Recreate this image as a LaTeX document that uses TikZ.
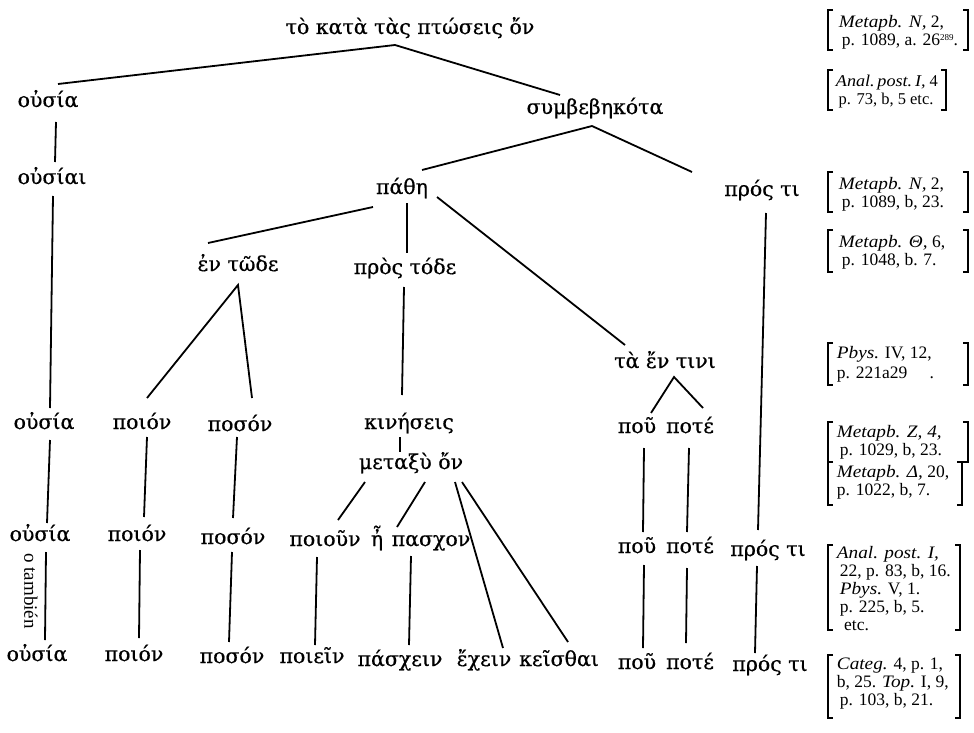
\documentclass[tikz,border=0pt]{standalone}
\usepackage{fontspec}
\setmainfont{Liberation Serif}[ItalicFeatures={FakeStretch=1.1}]
\newfontfamily\grk{DejaVu Serif}[FakeBold=0.6]
\usetikzlibrary{calc}
\newcommand{\supsm}[1]{\raisebox{5pt}{\fontsize{9}{9}\selectfont #1}}
\begin{document}
\begin{tikzpicture}[x=1pt,y=-1pt,line width=1.8pt,
  gk/.style={font=\grk\fontsize{20.5}{22}\selectfont,inner sep=0pt,anchor=base},
  rf/.style={font=\fontsize{17.5}{18}\selectfont,align=left,anchor=north west,inner sep=0pt},
  br/.style={line width=1.8pt}]
\useasboundingbox (0,0) rectangle (974,733);
% --- tree nodes ---
\node[gk] (top) at (410,34) {τὸ κατὰ τὰς πτώσεις ὄν};
\node[gk] (ousia1) at (48,107) {οὐσία};
\node[gk] (symb) at (595,114) {συμβεβηκότα};
\node[gk] (ousiai) at (52,184) {οὐσίαι};
\node[gk] (pathe) at (402,194) {πάθη};
\node[gk] (prosti1) at (762,196) {πρός τι};
\node[gk] (entode) at (238,271) {ἐν τῶδε};
\node[gk] (prostode) at (405,274) {πρὸς τόδε};
\node[gk] (taentini) at (665,368) {τὰ ἔν τινι};
\node[gk] (ousia2) at (44,429) {οὐσία};
\node[gk] (poion1) at (142,429) {ποιόν};
\node[gk] (poson1) at (240,431) {ποσόν};
\node[gk] (kineseis) at (409,429) {κινήσεις};
\node[gk] (metaxy) at (411,469) {μεταξὺ ὄν};
\node[gk] (pou1) at (637,433) {ποῦ};
\node[gk] (pote1) at (690,433) {ποτέ};
\node[gk] (ousia3) at (40,541) {οὐσία};
\node[gk] (poion2) at (137,541) {ποιόν};
\node[gk] (poson2) at (233,544) {ποσόν};
\node[gk] (poioun) at (325,546) {ποιοῦν};
\node[gk] (eta) at (377,546) {ἦ};
\node[gk] (pasxon) at (431,546) {πασχον};
\node[gk] (pou2) at (637,553) {ποῦ};
\node[gk] (pote2) at (690,553) {ποτέ};
\node[gk] (prosti2) at (768,556) {πρός τι};
\node[gk] (ousia4) at (37,661) {οὐσία};
\node[gk] (poion3) at (134,661) {ποιόν};
\node[gk] (poson3) at (232,663) {ποσόν};
\node[gk] (poiein) at (312,663) {ποιεῖν};
\node[gk] (pasxein) at (400,666) {πάσχειν};
\node[gk] (exein) at (484,666) {ἔχειν};
\node[gk] (keisthai) at (559,666) {κεῖσθαι};
\node[gk] (pou3) at (637,669) {ποῦ};
\node[gk] (pote3) at (690,669) {ποτέ};
\node[gk] (prosti3) at (770,671) {πρός τι};
\node[font=\fontsize{19}{20}\selectfont,rotate=-90,inner sep=0pt] (tambien) at (31,591) {o también};
% --- connectors ---
\draw ($(top.base)+(-15,11)$) -- ($(ousia1.base)+(10,-23)$);
\draw ($(top.base)+(-15,11)$) -- ($(symb.base)+(-35,-19)$);
\draw ($(ousia1.base)+(8,15)$) -- ($(ousiai.base)+(3,-22)$);
\draw ($(symb.base)+(-3,12)$) -- ($(pathe.base)+(20,-24)$);
\draw ($(symb.base)+(-3,12)$) -- ($(prosti1.base)+(-70,-24)$);
\draw ($(ousiai.base)+(1,12)$) -- ($(ousia2.base)+(6,-21)$);
\draw ($(pathe.base)+(-29,13)$) -- ($(entode.base)+(-30,-28)$);
\draw ($(pathe.base)+(5,9)$) -- ($(prostode.base)+(2,-21)$);
\draw ($(pathe.base)+(35,3)$) -- ($(taentini.base)+(-40,-23)$);
\draw ($(prosti1.base)+(4,17)$) -- ($(prosti2.base)+(-10,-26)$);
\draw ($(poion1.base)+(5,-31)$) -- ($(entode.base)+(0,14)$) -- ($(poson1.base)+(12,-33)$);
\draw ($(prostode.base)+(-1,13)$) -- ($(kineseis.base)+(-7,-34)$);
\draw ($(kineseis.base)+(-9,8)$) -- ($(metaxy.base)+(-11,-17)$);
\draw ($(pou1.base)+(14,-20)$) -- ($(taentini.base)+(9,9)$) -- ($(pote1.base)+(13,-25)$);
\draw ($(ousia2.base)+(6,11)$) -- ($(ousia3.base)+(7,-18)$);
\draw ($(poion1.base)+(5,8)$) -- ($(poion2.base)+(7,-24)$);
\draw ($(poson1.base)+(-3,6)$) -- ($(poson2.base)+(0,-26)$);
\draw ($(metaxy.base)+(-46,13)$) -- ($(poioun.base)+(13,-26)$);
\draw ($(metaxy.base)+(14,13)$) -- ($(pasxon.base)+(-34,-19)$);
\draw ($(metaxy.base)+(44,13)$) -- ($(exein.base)+(19,-18)$);
\draw ($(metaxy.base)+(51,13)$) -- ($(keisthai.base)+(9,-24)$);
\draw ($(pou1.base)+(7,15)$) -- ($(pou2.base)+(6,-21)$);
\draw ($(pote1.base)+(-1,15)$) -- ($(pote2.base)+(-3,-21)$);
\draw ($(prosti2.base)+(-11,10)$) -- ($(prosti3.base)+(-15,-18)$);
\draw ($(ousia3.base)+(6,11)$) -- ($(ousia4.base)+(8,-21)$);
\draw ($(poion2.base)+(3,9)$) -- ($(poion3.base)+(5,-23)$);
\draw ($(poson2.base)+(-1,8)$) -- ($(poson3.base)+(-3,-21)$);
\draw ($(poioun.base)+(-8,11)$) -- ($(poiein.base)+(3,-18)$);
\draw ($(pasxon.base)+(-20,10)$) -- ($(pasxein.base)+(9,-21)$);
\draw ($(pou2.base)+(7,12)$) -- ($(pou3.base)+(6,-21)$);
\draw ($(pote2.base)+(-3,15)$) -- ($(pote3.base)+(-4,-26)$);
% --- references ---
\node[rf] (r1) at (838,14) {\textit{Metapb. N,} 2,\\ \,p. 1089, a. 26\supsm{289}.};
\draw[br] (833,10) -- (828,10) -- (828,50) -- (833,50);
\draw[br] (963,10) -- (968,10) -- (968,50) -- (963,50);
\node[rf,font=\fontsize{16.5}{18}\selectfont] (r2) at (835,74) {\textit{Anal.\,post.\,I,} 4\\ \,p. 73, b, 5 etc.};
\draw[br] (833,70) -- (828,70) -- (828,110) -- (833,110);
\draw[br] (941,70) -- (946,70) -- (946,110) -- (941,110);
\node[rf] (r3) at (838,176) {\textit{Metapb. N,} 2,\\ \,p. 1089, b, 23.};
\draw[br] (833,172) -- (828,172) -- (828,212) -- (833,212);
\draw[br] (963,172) -- (968,172) -- (968,212) -- (963,212);
\node[rf] (r4) at (838,234) {\textit{Metapb. Θ,} 6,\\ \,p. 1048, b. 7.};
\draw[br] (833,230) -- (828,230) -- (828,272) -- (833,272);
\draw[br] (963,230) -- (968,230) -- (968,272) -- (963,272);
\node[rf] (r5) at (836,345) {\textit{Pbys.} IV, 12,\\[2pt] p. 221a29 \hspace{18pt}.};
\draw[br] (833,343) -- (828,343) -- (828,385) -- (833,385);
\draw[br] (963,343) -- (968,343) -- (968,385) -- (963,385);
\node[rf] (r6) at (836,424) {\textit{Metapb. Z, 4,}\\ \,p. 1029, b, 23.};
\draw[br] (833,422) -- (828,422) -- (828,462) -- (833,462);
\draw[br] (963,422) -- (968,422) -- (968,462) -- (963,462);
\node[rf] (r7) at (836,464) {\textit{Metapb. Δ,} 20,\\ p. 1022, b, 7.};
\draw[br] (833,462) -- (828,462) -- (828,505) -- (833,505);
\draw[br] (957,462) -- (962,462) -- (962,505) -- (957,505);
\node[rf] (r8) at (836,545) {\textit{Anal. post. I,}\\ \,22, p. 83, b, 16.\\ \,\textit{Pbys.} V, 1.\\ \,p. 225, b, 5.\\ \,\ etc.};
\draw[br] (833,545) -- (828,545) -- (828,630) -- (833,630);
\draw[br] (955,545) -- (960,545) -- (960,630) -- (955,630);
\node[rf] (r9) at (836,657) {\textit{Categ.} 4, p. 1,\\ b, 25. \textit{Top.} I, 9,\\ \,p. 103, b, 21.};
\draw[br] (833,655) -- (828,655) -- (828,718) -- (833,718);
\draw[br] (955,655) -- (960,655) -- (960,718) -- (955,718);
\end{tikzpicture}
\end{document}
